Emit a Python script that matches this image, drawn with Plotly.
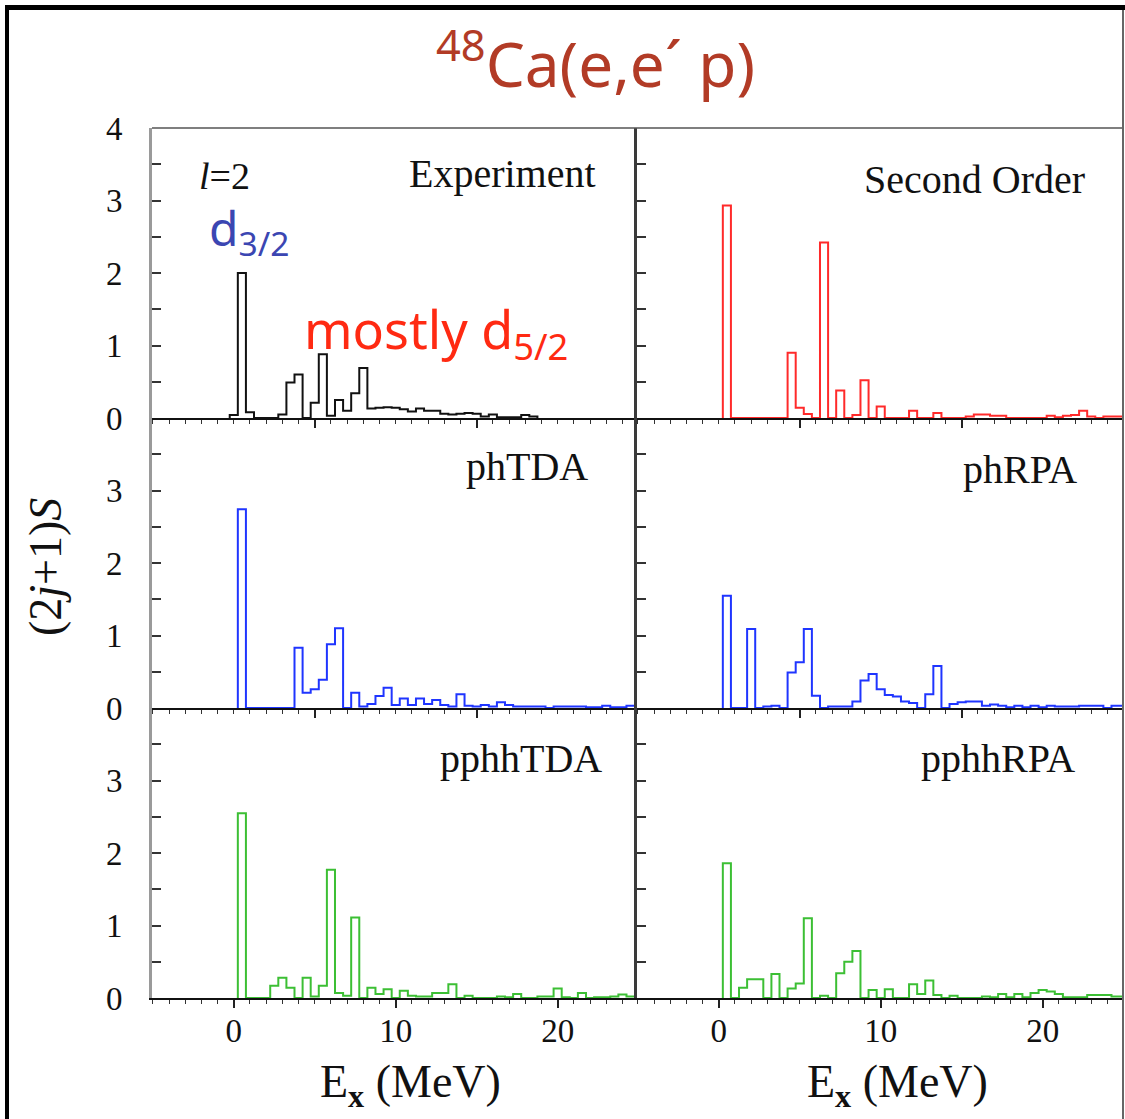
import plotly.graph_objects as go
from plotly.subplots import make_subplots

# Spectroscopic strength (2j+1)S per 0.5 MeV excitation-energy bin (bin centres in MeV)
BIN_WIDTH = 0.5

exp_E = [0.0, 0.5, 1.0, 3.0, 3.5, 4.0, 5.0, 5.5, 6.0, 6.5,
         7.0, 7.5, 8.0, 8.5, 9.0, 9.5, 10.0, 10.5, 11.0, 11.5,
         12.0, 12.5, 13.0, 13.5, 14.0, 14.5, 15.0, 15.5, 16.0, 16.5,
         17.0, 17.5, 18.0, 18.5]
exp_S = [0.04, 2.0, 0.08, 0.05, 0.49, 0.60, 0.21, 0.88, 0.03, 0.25,
         0.10, 0.34, 0.69, 0.13, 0.14, 0.15, 0.14, 0.12, 0.09, 0.13,
         0.10, 0.10, 0.06, 0.05, 0.06, 0.07, 0.06, 0.02, 0.05, 0.01,
         0.01, 0.01, 0.04, 0.02]

second_E = [0.5, 4.5, 5.0, 5.5, 6.5, 7.5, 8.5, 9.0, 10.0, 12.0,
            13.5, 15.5, 16.0, 16.5, 17.0, 17.5, 20.5, 21.0, 21.5, 22.0,
            22.5, 23.0, 24.0, 24.5, 25.0]
second_S = [2.93, 0.90, 0.14, 0.055, 2.42, 0.38, 0.04, 0.52, 0.16, 0.10,
            0.07, 0.02, 0.05, 0.05, 0.03, 0.03, 0.03, 0.01, 0.03, 0.04,
            0.10, 0.02, 0.02, 0.02, 0.02]

phtda_E = [0.5, 4.0, 4.5, 5.0, 5.5, 6.0, 6.5, 7.5, 8.0, 8.5,
           9.0, 9.5, 10.0, 10.5, 11.0, 11.5, 12.0, 12.5, 13.0, 13.5,
           14.0, 14.5, 15.0, 15.5, 16.0, 16.5, 17.0, 17.5, 18.0, 18.5,
           19.0, 20.0, 20.5, 21.0, 21.5, 22.0, 22.5, 23.0, 23.5, 24.0,
           24.5, 25.0]
phtda_S = [2.74, 0.83, 0.21, 0.26, 0.39, 0.88, 1.10, 0.21, 0.02, 0.055,
           0.165, 0.28, 0.04, 0.13, 0.04, 0.13, 0.055, 0.11, 0.04, 0.02,
           0.19, 0.03, 0.02, 0.04, 0.02, 0.08, 0.04, 0.02, 0.02, 0.02,
           0.02, 0.02, 0.02, 0.02, 0.02, 0.01, 0.01, 0.03, 0.01, 0.01,
           0.03, 0.03]

phrpa_E = [0.5, 2.0, 3.0, 3.5, 4.5, 5.0, 5.5, 6.0, 7.0, 7.5,
           8.0, 8.5, 9.0, 9.5, 10.0, 10.5, 11.0, 11.5, 12.0, 13.0,
           13.5, 14.5, 15.0, 15.5, 16.0, 16.5, 17.0, 17.5, 18.0, 18.5,
           19.0, 19.5, 20.0, 20.5, 21.0, 21.5, 22.0, 22.5, 23.0, 23.5,
           24.5, 25.0]
phrpa_S = [1.55, 1.09, 0.02, 0.03, 0.49, 0.63, 1.09, 0.17, 0.02, 0.02,
           0.02, 0.09, 0.38, 0.47, 0.26, 0.18, 0.16, 0.09, 0.07, 0.19,
           0.58, 0.055, 0.08, 0.09, 0.09, 0.03, 0.05, 0.03, 0.01, 0.03,
           0.01, 0.03, 0.01, 0.03, 0.02, 0.02, 0.02, 0.03, 0.03, 0.03,
           0.03, 0.03]

pphhtda_E = [0.5, 2.5, 3.0, 3.5, 4.5, 5.0, 5.5, 6.0, 6.5, 7.0,
             7.5, 8.5, 9.0, 9.5, 10.5, 11.0, 11.5, 12.0, 12.5, 13.0,
             13.5, 14.5, 16.5, 17.0, 17.5, 19.0, 19.5, 20.0, 20.5, 21.5,
             22.5, 23.0, 23.5, 24.0, 24.5, 25.0]
pphhtda_S = [2.55, 0.17, 0.28, 0.14, 0.28, 0.02, 0.17, 1.77, 0.07, 0.03,
             1.11, 0.14, 0.055, 0.12, 0.10, 0.03, 0.02, 0.02, 0.07, 0.07,
             0.19, 0.03, 0.02, 0.01, 0.055, 0.02, 0.02, 0.13, 0.01, 0.07,
             0.01, 0.01, 0.02, 0.05, 0.02, 0.02]

pphhrpa_E = [0.5, 1.5, 2.0, 2.5, 3.5, 4.5, 5.0, 5.5, 6.5, 7.5,
             8.0, 8.5, 9.5, 10.5, 12.0, 12.5, 13.0, 13.5, 14.5, 16.5,
             17.0, 17.5, 18.0, 18.5, 19.0, 19.5, 20.0, 20.5, 21.0, 21.5,
             22.0, 22.5, 23.0, 23.5, 24.0, 24.5, 25.0]
pphhrpa_S = [1.86, 0.14, 0.26, 0.26, 0.33, 0.13, 0.20, 1.10, 0.03, 0.34,
             0.50, 0.65, 0.11, 0.12, 0.19, 0.055, 0.24, 0.04, 0.03, 0.02,
             0.01, 0.055, 0.01, 0.055, 0.01, 0.07, 0.11, 0.09, 0.055, 0.01,
             0.01, 0.01, 0.04, 0.04, 0.04, 0.02, 0.02]

panel_names = ["Experiment", "Second Order", "phTDA", "phRPA", "pphhTDA", "pphhRPA"]
panel_data = [(exp_E, exp_S), (second_E, second_S), (phtda_E, phtda_S),
              (phrpa_E, phrpa_S), (pphhtda_E, pphhtda_S), (pphhrpa_E, pphhrpa_S)]
panel_colors = ["#111111", "#ff2a2a", "#1f35ff", "#1f35ff", "#3cbf34", "#3cbf34"]

x_ticks_upper = [5, 15]
x_ticks_lower = [0, 10, 20]
x_minor = list(range(-5, 25))
y_ticks_top = [0, 1, 2, 3, 4]
y_ticks_rest = [0, 1, 2, 3]
y_minor = [0.5, 1.5, 2.5, 3.5]

SERIF = "Liberation Serif"
HAND = "Noto Sans"

W, H = 1125, 1119
ML, MR, MT, MB = 152, 3, 128, 121


def step_outline(centres, heights):
    """Histogram outline: contiguous 0.5 MeV bins, empty bins at zero."""
    table = {round(c / BIN_WIDTH): h for c, h in zip(centres, heights, strict=True)}
    k0, k1 = min(table), max(table)
    xs, ys = [k0 * BIN_WIDTH - BIN_WIDTH / 2], [0.0]
    for k in range(k0, k1 + 1):
        xs.append(k * BIN_WIDTH - BIN_WIDTH / 2)
        ys.append(table.get(k, 0.0))
    xs.append(k1 * BIN_WIDTH + BIN_WIDTH / 2)
    ys.append(0.0)
    return xs, ys


def px(xp):
    return (xp - ML) / (W - ML - MR)


def py(yp):
    return (H - MB - yp) / (H - MT - MB)


fig = make_subplots(rows=3, cols=2, horizontal_spacing=0, vertical_spacing=0)

for i, ((E, S), color) in enumerate(zip(panel_data, panel_colors)):
    r, c = i // 2 + 1, i % 2 + 1
    xs, ys = step_outline(E, S)
    fig.add_trace(go.Scatter(x=xs, y=ys, mode="lines",
                             line=dict(color=color, width=2, shape="hv"),
                             hoverinfo="skip", showlegend=False, cliponaxis=True),
                  row=r, col=c)

for r in (1, 2, 3):
    for c in (1, 2):
        bottom = r == 3
        fig.update_xaxes(
            row=r, col=c, range=[-5.05, 24.9], showgrid=False, zeroline=False,
            showline=True, linecolor="#111", linewidth=2,
            tickmode="array", tickvals=x_ticks_lower if bottom else x_ticks_upper,
            ticks="outside", ticklen=8, tickwidth=1.5, tickcolor="#222",
            minor=dict(tickmode="array", tickvals=x_minor, ticks="outside",
                       ticklen=4, tickwidth=1.2, tickcolor="#333"),
            showticklabels=bottom, ticklabelstandoff=-6,
            tickfont=dict(family=SERIF, size=33, color="#111"),
        )
        fig.update_yaxes(
            row=r, col=c, range=[0, 4], showgrid=False, zeroline=False,
            showline=True, linecolor="#9a9a9a" if c == 1 else "#3a3a3a", linewidth=3,
            tickmode="array", tickvals=y_ticks_top if r == 1 else y_ticks_rest,
            ticks="inside", ticklen=9, tickwidth=1.5, tickcolor="#333",
            minor=dict(tickmode="array", tickvals=y_minor, ticks="inside",
                       ticklen=9, tickwidth=1.5, tickcolor="#333"),
            showticklabels=(c == 1), ticklabelstandoff=20,
            tickfont=dict(family=SERIF, size=33, color="#111"),
        )

annotations = []

# panel names, right-aligned in each panel
label_pos = [(597, 174), (1086, 179), (589, 466), (1078, 469), (603, 758), (1076, 758)]
for name, (xr, yc) in zip(panel_names, label_pos):
    annotations.append(dict(text=name, x=px(xr), y=py(yc), xanchor="right", yanchor="middle",
                            font=dict(family=SERIF, size=40, color="#111")))

annotations += [
    dict(text="<i>l</i>=2", x=px(198), y=py(176), xanchor="left", yanchor="middle",
         font=dict(family=SERIF, size=38, color="#111")),
    dict(text="d<sub>3/2</sub>", x=px(208), y=py(230), xanchor="left", yanchor="middle",
         font=dict(family=HAND, size=48, color="#3b46b2")),
    dict(text="mostly d<sub>5/2</sub>", x=px(303), y=py(332), xanchor="left", yanchor="middle",
         font=dict(family=HAND, size=52, color="#ff2a12")),
    dict(text="<sup>48</sup>Ca(e,e´ p)", x=px(595), y=py(60), xanchor="center", yanchor="middle",
         font=dict(family=HAND, size=62, color="#b23b26")),
    dict(text="E<sub><b>x</b></sub> (MeV)", x=px(410), y=py(1085), xanchor="center", yanchor="middle",
         font=dict(family=SERIF, size=46, color="#111")),
    dict(text="E<sub><b>x</b></sub> (MeV)", x=px(897), y=py(1085), xanchor="center", yanchor="middle",
         font=dict(family=SERIF, size=46, color="#111")),
    dict(text="(2<i>j</i>+1)<i>S</i>", x=px(45), y=py(567), xanchor="center", yanchor="middle",
         textangle=-90, font=dict(family=SERIF, size=46, color="#111")),
]
for a in annotations:
    a.setdefault("xref", "paper")
    a.setdefault("yref", "paper")
    a.setdefault("showarrow", False)
    a.setdefault("borderpad", 0)

shapes = [
    # top edge of the upper panels
    dict(type="line", xref="paper", yref="paper", x0=px(152), x1=px(1122), y0=py(128), y1=py(128),
         line=dict(color="#555", width=1.5)),
    # page frame
    dict(type="line", xref="paper", yref="paper", x0=px(7), x1=px(7), y0=py(5), y1=py(1119),
         line=dict(color="#000", width=4)),
    dict(type="line", xref="paper", yref="paper", x0=px(5), x1=px(1125), y0=py(7.5), y1=py(7.5),
         line=dict(color="#000", width=5)),
    dict(type="line", xref="paper", yref="paper", x0=px(1123), x1=px(1123), y0=py(10), y1=py(1119),
         line=dict(color="#333", width=1.5)),
]

fig.update_layout(
    width=W, height=H, margin=dict(l=ML, r=MR, t=MT, b=MB, pad=0),
    paper_bgcolor="white", plot_bgcolor="white",
    annotations=annotations, shapes=shapes, showlegend=False,
)

fig.write_html("out.html")
